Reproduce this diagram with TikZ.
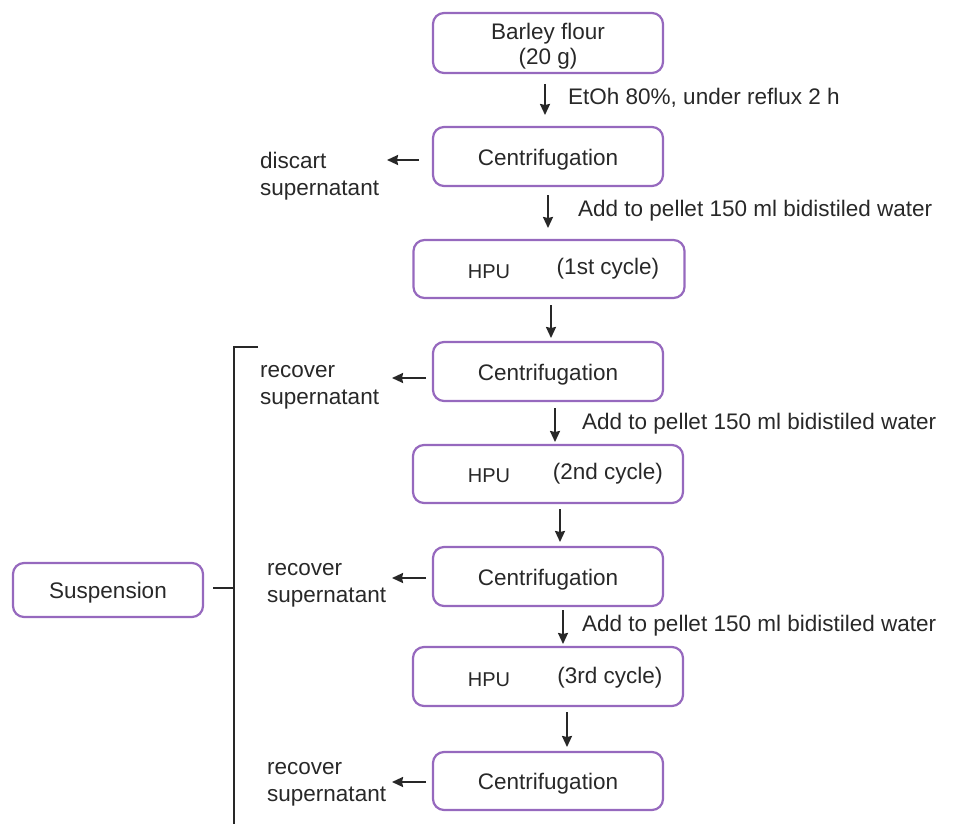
\documentclass[tikz,border=0pt]{standalone}
\usepackage{fontspec}
\setmainfont{Liberation Sans}
\usetikzlibrary{arrows.meta}
\definecolor{boxpurple}{RGB}{150,105,190}
\definecolor{ink}{RGB}{40,40,40}
\begin{document}
\begin{tikzpicture}[x=1pt,y=-1pt,
  every node/.style={text=ink,font=\fontsize{22.5}{26}\selectfont},
  stepbox/.style={draw=boxpurple,line width=2.2pt,rounded corners=11pt,inner sep=0pt,align=center},
  cbox/.style={stepbox,minimum width=230pt,minimum height=59pt,text height=21pt,text depth=4pt},
  hbox/.style={stepbox,minimum width=271pt,minimum height=58pt},
  arr/.style={draw=ink,line width=2pt,-{Stealth[length=11pt,width=10pt,inset=1pt]}},
  side/.style={anchor=west,align=left,inner sep=0pt,font=\fontsize{22.5}{27}\selectfont},
  lbl/.style={anchor=west,inner sep=0pt},
  hpu/.style={font=\fontsize{20}{22}\selectfont}]
\useasboundingbox (0,0) rectangle (956,824);

% boxes
\node[stepbox,minimum width=230pt,minimum height=60pt] (b0) at (548,43) {};
\node[align=center,font=\fontsize{22.5}{25}\selectfont] (b0t) at (548,46) {Barley flour\\(20 g)};
\node[cbox] (c1) at (548,156.5) {Centrifugation};
\node[hbox] (h1) at (549,269) {};
\node[cbox] (c2) at (548,371.5) {Centrifugation};
\node[hbox,minimum width=270pt] (h2) at (548,474) {};
\node[cbox] (c3) at (548,576.5) {Centrifugation};
\node[hbox,minimum width=270pt,minimum height=59pt] (h3) at (548,676.5) {};
\node[cbox,minimum height=58pt] (c4) at (548,781) {Centrifugation};
\node[stepbox,minimum width=190pt,minimum height=54pt,text height=21pt,text depth=4pt] (susp) at (108,590) {Suspension};

% HPU texts
\node[hpu] (hp1) at (489,272) {HPU};
\node (cy1) at (608,269) {(1st cycle)};
\node[hpu] (hp2) at (489,476) {HPU};
\node (cy2) at (608,474) {(2nd cycle)};
\node[hpu] (hp3) at (489,680) {HPU};
\node (cy3) at (610,678) {(3rd cycle)};

% vertical arrows
\coordinate (a1s) at (545,84); \coordinate (a1e) at (545,115);
\coordinate (a2s) at (548,195); \coordinate (a2e) at (548,228);
\coordinate (a3s) at (551,305); \coordinate (a3e) at (551,338);
\coordinate (a4s) at (555,408); \coordinate (a4e) at (555,442);
\coordinate (a5s) at (560,509); \coordinate (a5e) at (560,542);
\coordinate (a6s) at (563,610); \coordinate (a6e) at (563,644);
\coordinate (a7s) at (567,712); \coordinate (a7e) at (567,747);
\foreach \i in {1,...,7} {\draw[arr] (a\i s) -- (a\i e);}

% arrow labels
\node[lbl] (l1) at (568,98) {EtOh 80\%, under reflux 2 h};
\node[lbl] (l2) at (578,211) {Add to pellet 150 ml bidistiled water};
\node[lbl] (l4) at (582,424) {Add to pellet 150 ml bidistiled water};
\node[lbl] (l6) at (582,626) {Add to pellet 150 ml bidistiled water};

% side labels
\node[side] (s1) at (260,176) {discart\\supernatant};
\node[side] (s2) at (260,387) {recover\\supernatant};
\node[side] (s3) at (267,585) {recover\\supernatant};
\node[side] (s4) at (267,784) {recover\\supernatant};

% horizontal arrows
\coordinate (h1s) at (419,160); \coordinate (h1e) at (387,160);
\coordinate (h2s) at (426,378); \coordinate (h2e) at (392,378);
\coordinate (h3s) at (426,578); \coordinate (h3e) at (392,578);
\coordinate (h4s) at (426,782); \coordinate (h4e) at (392,782);
\foreach \i in {1,...,4} {\draw[arr] (h\i s) -- (h\i e);}

% bracket
\coordinate (bt) at (258,347);
\coordinate (bc) at (234,347);
\coordinate (bb) at (234,826);
\coordinate (bm) at (234,588);
\coordinate (sj) at (213,588);
\draw[draw=ink,line width=2.2pt] (bt) -- (bc) -- (bb);
\draw[draw=ink,line width=2.2pt] (sj) -- (bm);
\end{tikzpicture}
\end{document}
